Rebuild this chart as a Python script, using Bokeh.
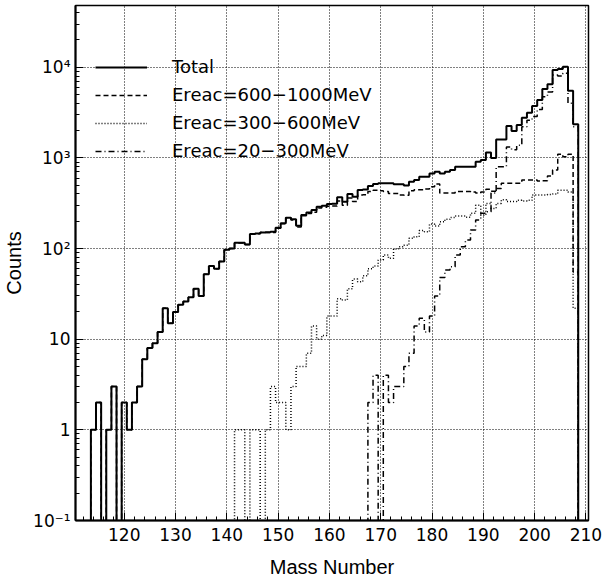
import numpy as np
from bokeh.plotting import figure
from bokeh.models import Range1d, FixedTicker, SingleIntervalTicker, Legend, LegendItem
from bokeh.embed import file_html
from bokeh.resources import INLINE

# ---- data (bin centres = mass numbers 111..210) ----
mass = list(range(111, 211))

total = [
    0, 0, 0, 1, 2, 0, 1, 3, 0, 2,
    1, 2, 3, 6, 8, 9, 12, 22, 15, 20,
    24, 26, 29, 36, 30, 52, 64, 60, 72, 97,
    100, 116, 116, 111, 145, 147, 150, 151, 153, 170,
    190, 219, 210, 178, 235, 250, 266, 290, 297, 310,
    313, 368, 329, 400, 373, 443, 447, 490, 515, 525,
    525, 525, 512, 512, 495, 546, 570, 620, 620, 675,
    705, 675, 705, 735, 800, 800, 800, 800, 908, 948,
    1150, 1000, 1600, 1600, 2250, 1980, 2300, 2770, 3150, 3730,
    4350, 5760, 6480, 9300, 9550, 10100, 5500, 2350, 0, 0,
]

ereac_600_1000 = [
    0, 0, 0, 1, 2, 0, 1, 3, 0, 2,
    1, 2, 3, 6, 8, 9, 12, 22, 15, 20,
    24, 26, 29, 36, 30, 52, 64, 60, 72, 97,
    100, 115, 115, 111, 144, 146, 150, 150, 150, 168,
    188, 218, 207, 173, 230, 243, 252, 280, 285, 292,
    295, 335, 300, 362, 330, 390, 392, 425, 440, 435,
    425, 405, 405, 390, 388, 435, 445, 445, 455, 480,
    515, 410, 410, 410, 425, 425, 425, 420, 410, 420,
    450, 430, 460, 525, 525, 525, 525, 570, 570, 570,
    555, 560, 630, 735, 1100, 1030, 1100, 55, 0, 0,
]

ereac_300_600 = [
    0, 0, 0, 0, 0, 0, 0, 0, 0, 0,
    0, 0, 0, 0, 0, 0, 0, 0, 0, 0,
    0, 0, 0, 0, 0, 0, 0, 0, 0, 0,
    0, 1, 1, 0, 1, 1, 0, 1, 3, 2,
    2, 1, 3, 5, 5, 7, 14, 10, 11, 18,
    18, 28, 27, 36, 46, 43, 50, 60, 64, 75,
    85, 78, 99, 105, 109, 130, 135, 158, 153, 186,
    177, 197, 210, 220, 228, 228, 222, 245, 300, 233,
    315, 277, 315, 345, 330, 330, 340, 335, 340, 390,
    390, 390, 395, 400, 440, 440, 420, 22, 0, 0,
]

ereac_20_300 = [
    0, 0, 0, 0, 0, 0, 0, 0, 0, 0,
    0, 0, 0, 0, 0, 0, 0, 0, 0, 0,
    0, 0, 0, 0, 0, 0, 0, 0, 0, 0,
    0, 0, 0, 0, 0, 0, 0, 0, 0, 0,
    0, 0, 0, 0, 0, 0, 0, 0, 0, 0,
    0, 0, 0, 0, 0, 0, 0, 2, 4, 0,
    4, 2, 3, 3, 5, 7, 14, 17, 12, 18,
    30, 48, 58, 63, 85, 105, 124, 160, 207, 245,
    255, 410, 800, 800, 1320, 1230, 1380, 2200, 2600, 2860,
    3430, 4740, 5350, 8200, 8000, 8600, 4000, 2200, 0, 0,
]

labels = ["Total", "Ereac=600\u22121000MeV", "Ereac=300\u2212600MeV", "Ereac=20\u2212300MeV"]
y_ticks = [0.1, 1, 10, 100, 1000, 10000]
y_tick_labels = ["10\u207b\u00b9", "1", "10", "10\u00b2", "10\u00b3", "10\u2074"]

TICK_FONT = "DejaVu Sans"
TITLE_FONT = "Liberation Sans"


def log_safe(v):
    a = np.asarray(v, dtype=float)
    return np.where(a > 0, a, 1e-3)  # empty bins drop below the axis, like ROOT


p = figure(
    width=605, height=586,
    x_range=Range1d(110.5, 210.5), y_range=Range1d(0.1, 48000),
    y_axis_type="log",
    output_backend="svg", toolbar_location=None,
    min_border_left=70, min_border_right=17, min_border_top=5, min_border_bottom=66,
)
p.background_fill_color = "white"
p.border_fill_color = "white"
p.outline_line_color = "black"
p.outline_line_width = 1.5

# axes
p.xaxis.ticker = SingleIntervalTicker(interval=10, num_minor_ticks=5)
p.yaxis.ticker = FixedTicker(
    ticks=y_ticks,
    minor_ticks=[k * 10.0 ** e for e in range(-1, 5) for k in range(2, 10)],
)
p.yaxis.major_label_overrides = dict(zip(y_ticks, y_tick_labels))

for ax in (p.xaxis[0], p.yaxis[0]):
    ax.major_tick_in = 8
    ax.major_tick_out = 0
    ax.minor_tick_in = 4
    ax.minor_tick_out = 0
    ax.axis_line_width = 2
    ax.major_tick_line_width = 1
    ax.major_label_text_font = TICK_FONT
    ax.major_label_text_font_size = "17px"
    ax.major_label_text_color = "black"
    ax.axis_label_text_font = TITLE_FONT
    ax.axis_label_text_font_size = "20px"
    ax.axis_label_text_font_style = "normal"
    ax.axis_label_text_color = "black"

p.xaxis.axis_label = "Mass Number"
p.yaxis.axis_label = "Counts"
p.xaxis.major_label_standoff = 7
p.xaxis.axis_label_standoff = 12
p.yaxis.major_label_standoff = 5
p.yaxis.axis_label_standoff = 5

# grid
for g in (p.xgrid[0], p.ygrid[0]):
    g.grid_line_color = "black"
    g.grid_line_dash = "1 2"
    g.grid_line_width = 1
    g.grid_line_alpha = 1.0

# histograms
r3 = p.step(mass, log_safe(ereac_300_600), mode="center", line_color="black",
            line_width=1.5, line_dash="1 2")
r4 = p.step(mass, log_safe(ereac_20_300), mode="center", line_color="black",
            line_width=1.5, line_dash="6 3 1 3")
r2 = p.step(mass, log_safe(ereac_600_1000), mode="center", line_color="black",
            line_width=1.5, line_dash="5 3")
r1 = p.step(mass, log_safe(total), mode="center", line_color="black",
            line_width=2)

legend = Legend(
    items=[LegendItem(label=l, renderers=[r]) for l, r in zip(labels, [r1, r2, r3, r4])],
    location=(20, 359),
    padding=0, margin=0, spacing=7,
    glyph_width=52, glyph_height=20, label_height=20, label_standoff=25,
    background_fill_alpha=0, border_line_alpha=0,
    label_text_font=TICK_FONT, label_text_font_size="18px", label_text_color="black",
)
p.add_layout(legend)

open("out.html", "w").write(file_html(p, INLINE))
